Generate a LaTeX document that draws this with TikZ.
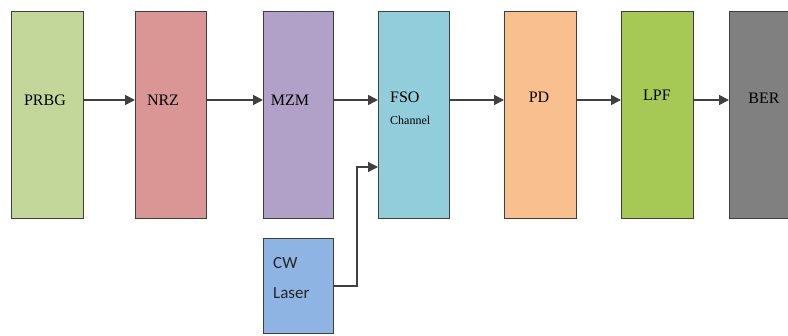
\documentclass[tikz,border=0pt]{standalone}
\usepackage{fontspec}
\setmainfont{Liberation Serif}
\newfontfamily\labelsans{Carlito}
\usetikzlibrary{arrows.meta}
\definecolor{edgegray}{HTML}{3F3F3F}
\definecolor{cPRBG}{HTML}{C4D79B}
\definecolor{cNRZ}{HTML}{DA9694}
\definecolor{cMZM}{HTML}{B1A0C7}
\definecolor{cFSO}{HTML}{92CDDC}
\definecolor{cPD}{HTML}{FABF8F}
\definecolor{cLPF}{HTML}{A6C855}
\definecolor{cBER}{HTML}{808080}
\definecolor{cCW}{HTML}{8DB4E2}
\tikzset{
  block/.style={draw=edgegray, line width=1.4pt, rectangle, inner sep=0pt, anchor=north west},
  lbl/.style={font=\fontsize{16}{18}\selectfont, text=black, inner sep=0pt},
  link/.style={draw=black!75, line width=1.6pt, -{Triangle[length=10pt,width=10pt]}},
}
\begin{document}
\begin{tikzpicture}[x=1pt, y=-1pt]
\clip (0,0) rectangle (788,336);
\useasboundingbox (0,0) rectangle (788,336);
% main chain of blocks
\node[block, fill=cPRBG, minimum width=72pt, minimum height=207pt] (prbg) at (11,11) {};
\node[block, fill=cNRZ,  minimum width=71pt, minimum height=207pt] (nrz)  at (135,11) {};
\node[block, fill=cMZM,  minimum width=70pt, minimum height=207pt] (mzm)  at (263,11) {};
\node[block, fill=cFSO,  minimum width=71pt, minimum height=207pt] (fso)  at (378,11) {};
\node[block, fill=cPD,   minimum width=72pt, minimum height=207pt] (pd)   at (504,11) {};
\node[block, fill=cLPF,  minimum width=72pt, minimum height=207pt] (lpf)  at (621,11) {};
\node[block, fill=cBER,  minimum width=75pt, minimum height=207pt] (ber)  at (729,11) {};
% laser source below the modulator
\node[block, fill=cCW, minimum width=70pt, minimum height=95pt] (cw) at (263,238) {};

% block labels
\node[lbl] (tprbg) at (45,100) {PRBG};
\node[lbl] (tnrz)  at (163,100) {NRZ};
\node[lbl] (tmzm)  at (290,100) {MZM};
\node[lbl, anchor=west] (tfso) at (390,97) {FSO};
\node[lbl, anchor=west, font=\fontsize{12}{14}\selectfont] (tchan) at (390,120) {Channel};
\node[lbl] (tpd)   at (539,97) {PD};
\node[lbl] (tlpf)  at (657,95) {LPF};
\node[lbl] (tber)  at (764,98) {BER};
\node[lbl, anchor=west, font=\labelsans\fontsize{17}{19}\selectfont, text=black!85] (tcw) at (273,263) {CW};
\node[lbl, anchor=west, font=\labelsans\fontsize{17}{19}\selectfont, text=black!85] (tlaser) at (273,293) {Laser};

% signal path
\draw[link] (prbg.east |- 0,100) -- (nrz.west |- 0,100);
\draw[link] (nrz.east |- 0,100) -- (mzm.west |- 0,100);
\draw[link] (mzm.east |- 0,100) -- (fso.west |- 0,100);
\draw[link] (fso.east |- 0,100) -- (pd.west |- 0,100);
\draw[link] (pd.east |- 0,100) -- (lpf.west |- 0,100);
\draw[link] (lpf.east |- 0,100) -- (ber.west |- 0,100);
% optical carrier into the channel
\coordinate (bend) at (357,286);
\draw[link, line width=1.2pt] (cw.east |- bend) -- (bend) -- (357,167) -- (fso.west |- 0,167);
\end{tikzpicture}
\end{document}
